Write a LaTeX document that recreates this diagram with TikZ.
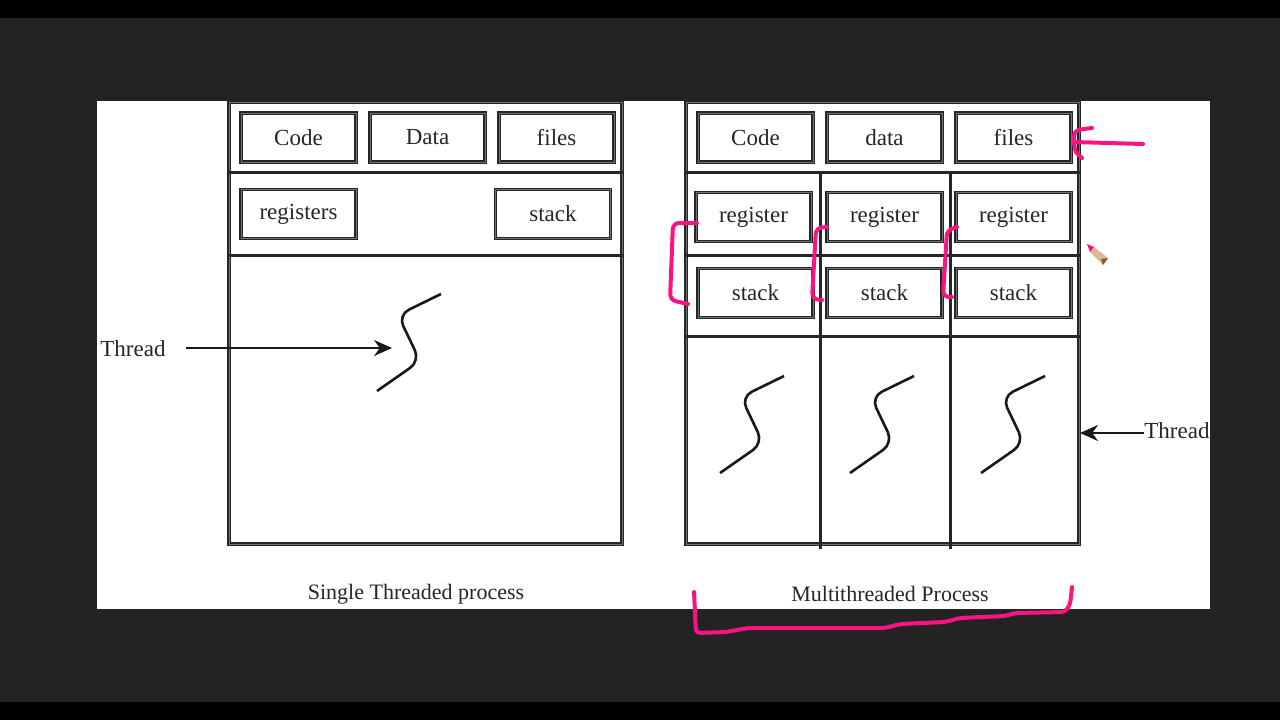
\documentclass[tikz,border=0pt]{standalone}
\usepackage{fontspec}
\setmainfont{Liberation Serif}
\usetikzlibrary{arrows.meta}
\definecolor{ink}{RGB}{250,20,130}
\definecolor{screen}{RGB}{35,35,35}

\begin{document}
\begin{tikzpicture}[x=0.5bp,y=-0.5bp,
    membox/.style={draw=black!85,double=black!55,double distance=0.45bp,line width=0.6bp,
        minimum width=57.5bp,minimum height=24.5bp,inner sep=0pt,text=black!85,
        font=\fontsize{11.5bp}{13bp}\selectfont},
    procbox/.style={draw=black!85,double=black!55,double distance=0.45bp,line width=0.6bp,
        minimum width=196.5bp,minimum height=221bp,inner sep=0pt},
    divider/.style={line width=1.5bp,black!85},
    label/.style={text=black!85,font=\fontsize{11bp}{13bp}\selectfont},
    pointer/.style={line width=1.2bp,black!90,-{Stealth[length=9bp,width=8bp]}},
    marker/.style={ink,line width=2bp,line cap=round,line join=round},
    thread/.pic={\draw[line width=1.3bp,black!90,rounded corners=6bp]
        (0,0) -- (43,-30) -- (21,-76) -- (64,-97);}]
    % screen and slide
    \fill[screen] (0,0) rectangle (1280,720);
    \fill[black] (0,0) rectangle (1280,18);
    \fill[black] (0,702) rectangle (1280,720);
    \fill[white] (97,101) rectangle (1210,609);

    % single threaded process
    \node[procbox] (lp) at (425.5,323) {};
    \draw[divider] (227,172) -- (624,172);
    \draw[divider] (227,255) -- (624,255);
    \node[membox] (lcode) at (298.5,137.5) {Code};
    \node[membox] (ldata) at (427.5,137.5) {Data};
    \node[membox] (lfiles) at (556.5,137.5) {files};
    \node[membox] (lreg) at (298.5,214) {registers};
    \node[membox] (lstack) at (553,214) {stack};
    \pic at (377,391) {thread};
    \node[label,font=\fontsize{11.5bp}{13bp}\selectfont,outer xsep=7bp] (thrL) at (133,349) {Thread};
    \coordinate (tipL) at (392,348);
    \draw[pointer] (thrL.east |- tipL) -- (tipL);
    \node[label] (lcap) at (416,594) {Single Threaded process};

    % multithreaded process
    \node[procbox] (rp) at (882.5,323) {};
    \draw[divider] (684,172) -- (1081,172);
    \draw[divider] (684,255) -- (1081,255);
    \draw[divider] (684,336) -- (1081,336);
    \draw[divider] (820,172) -- (820,549);
    \draw[divider] (950,172) -- (950,549);
    \node[membox] (rcode) at (755.5,137.5) {Code};
    \node[membox] (rdata) at (884.5,137.5) {data};
    \node[membox] (rfiles) at (1013.5,137.5) {files};
    \foreach \x/\n in {753.5/1,884.5/2,1013.5/3}{
        \node[membox] (rreg\n) at (\x,217) {register};
    }
    \foreach \x/\n in {755.5/1,884.5/2,1013.5/3}{
        \node[membox] (rstack\n) at (\x,293) {stack};
    }
    \foreach \x in {720,850,981}{
        \pic at (\x,473) {thread};
    }
    \begin{scope}
        \clip (97,101) rectangle (1210,609);
        \node[label,font=\fontsize{11.5bp}{13bp}\selectfont,anchor=west,inner xsep=0pt] (thrR) at (1144,431) {Thread};
    \end{scope}
    \coordinate (tipR) at (1080,433);
    \draw[pointer] (thrR.west |- tipR) -- (tipR);
    \node[label] (rcap) at (890,594) {Multithreaded Process};

    % pen marks
    \draw[marker] (1143,144) -- (1074,142);
    \draw[marker] (1092,128) .. controls (1074,130) .. (1074,142) .. controls (1075,152) .. (1082,158);
    \draw[marker,rounded corners=3bp] (697,223) -- (673,223) -- (670,300) -- (688,304);
    \draw[marker,rounded corners=3bp] (827,227) -- (816,228) -- (812,299) -- (822,300);
    \draw[marker,rounded corners=3bp] (957,227) -- (947,230) -- (943,297) -- (952,297);
    \draw[marker,rounded corners=2bp] (694,592) -- (696,633) -- (726,632) -- (748,628) -- (885,628)
        -- (900,624) -- (945,622) -- (960,618) -- (1005,616) -- (1015,613) -- (1065,612)
        -- (1070,605) -- (1072,587);
    % pencil cursor
    \fill[brown!55!white] (1094,247) -- (1108,258) -- (1103,265) -- (1090,252) -- cycle;
    \fill[brown!70!black] (1101,259) -- (1108,258) -- (1103,265) -- cycle;
    \fill[ink] (1087,244) -- (1094,247) -- (1090,252) -- cycle;
\end{tikzpicture}
\end{document}
